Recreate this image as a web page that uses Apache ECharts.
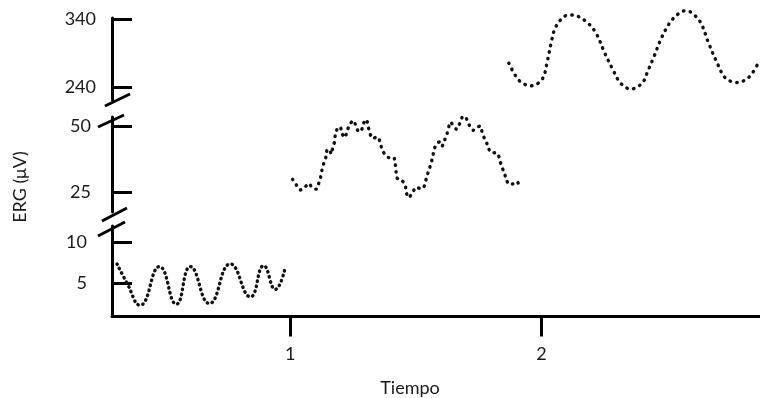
<!DOCTYPE html>
<html>
<head>
<meta charset="utf-8">
<script src="https://cdn.jsdelivr.net/npm/echarts@6/dist/echarts.min.js"></script>
<style>html,body{margin:0;padding:0;background:#fff}#c{width:760px;height:398px}</style>
</head>
<body>
<div id="c"></div>
<script>
// ---- data ----
const xTicks = [1, 2];
const yTicksLow = [5, 10];
const yTicksMid = [25, 50];
const yTicksHigh = [240, 340];

// low band (0.3 - 1.0)
const tiempoA = [0.310, 0.349, 0.402, 0.479, 0.546, 0.602, 0.678, 0.761, 0.841, 0.894, 0.940, 0.980];
const ergA    = [7.37, 5.07, 2.33, 7.04, 2.45, 7.04, 2.54, 7.37, 3.35, 7.16, 4.26, 6.97];

// mid band (1.0 - 1.92)
const tiempoB = [1.009,1.024,1.040,1.057,1.073,1.089,1.104,1.114,1.121,1.126,1.133,1.142,1.146,1.157,1.162,1.170,1.177,1.179,1.189,1.199,1.206,1.217,1.226,1.235,1.250,1.262,1.272,1.284,1.292,1.303,1.309,1.316,1.327,1.348,1.359,1.365,1.379,1.392,1.412,1.418,1.421,1.422,1.432,1.442,1.458,1.460,1.470,1.487,1.498,1.518,1.531,1.538,1.545,1.554,1.562,1.568,1.574,1.584,1.595,1.604,1.614,1.624,1.638,1.651,1.661,1.677,1.687,1.701,1.711,1.728,1.744,1.757,1.764,1.773,1.784,1.794,1.806,1.823,1.834,1.839,1.850,1.859,1.870,1.887,1.903,1.916];
const ergB    = [30.0,27.9,26.0,26.9,28.5,26.6,26.3,28.8,31.0,33.5,36.0,38.5,41.0,41.2,39.5,42.2,44.5,46.9,49.4,49.7,47.2,45.7,48.2,50.4,52.2,50.1,47.9,48.7,51.2,52.6,50.4,47.6,45.4,46.0,43.5,41.2,39.1,38.2,38.2,35.6,33.1,30.8,30.0,29.8,27.9,25.8,23.1,24.8,27.0,26.6,27.0,29.1,31.6,34.1,36.6,39.1,41.6,43.7,44.1,42.5,44.7,47.2,51.6,50.0,48.9,51.6,53.8,52.9,50.7,48.5,49.7,50.1,47.6,45.4,43.2,40.7,40.0,40.0,37.5,35.4,32.9,30.4,28.1,28.3,29.1,26.6];

// high band (1.87 - 2.87)
const tiempoC = [1.870,1.912,1.959,2.003,2.023,2.041,2.056,2.089,2.116,2.142,2.186,2.219,2.251,2.286,2.315,2.355,2.401,2.424,2.448,2.477,2.514,2.551,2.574,2.598,2.634,2.663,2.697,2.733,2.780,2.826,2.859];
const ergC    = [275.3,249.3,241.9,251.8,277.6,309.6,328.2,343.8,346.3,344.9,334.1,318.4,290.9,264.4,245.9,237.1,245.9,264.4,285.0,312.0,336.5,349.7,352.6,349.7,335.0,307.1,277.6,253.2,246.8,254.7,272.8];

const xName = 'Tiempo';
const yName = 'ERG (\u03bcV)';

// ---- chart ----
const zip = (xs, ys) => xs.map((x, i) => [x, ys[i]]);
const FONT = 'Lato';
const ink = '#000';

function yAx(gi, min, max, ticks, margin) {
  return {
    gridIndex: gi, type: 'value', min: min, max: max,
    axisLine: { show: true, lineStyle: { color: ink, width: 3 } },
    axisTick: { show: true, inside: true, length: 20, lineStyle: { color: ink, width: 3 }, customValues: ticks },
    axisLabel: { show: true, customValues: ticks, margin: margin, color: '#1a1a1a', fontFamily: FONT, fontSize: 18 },
    splitLine: { show: false }
  };
}
function xAx(gi, show) {
  return {
    gridIndex: gi, type: 'value', min: 0.29, max: 2.87, show: show,
    axisLine: { show: true, onZero: false, lineStyle: { color: ink, width: 3 } },
    axisTick: { show: true, inside: false, length: 20, lineStyle: { color: ink, width: 3 }, customValues: xTicks },
    axisLabel: { show: true, customValues: xTicks, margin: 29, color: '#1a1a1a', fontFamily: FONT, fontSize: 18 },
    splitLine: { show: false }
  };
}
function ser(i, xs, ys, dash, smooth) {
  return {
    type: 'line', xAxisIndex: i, yAxisIndex: i, data: zip(xs, ys),
    showSymbol: false, clip: false, smooth: smooth,
    lineStyle: { color: '#111', width: 3.4, type: dash, cap: 'round' }
  };
}
const brk = (x1, y1, x2, y2) => ({ type: 'line', shape: { x1, y1, x2, y2 }, style: { stroke: ink, lineWidth: 3 }, z: 10 });

const chart = echarts.init(document.getElementById('c'), null, { renderer: 'canvas' });
chart.setOption({
  animation: false,
  backgroundColor: '#fff',
  grid: [
    { left: 112, right: 0, top: 18, height: 82 },
    { left: 112, right: 0, top: 117, height: 95 },
    { left: 112, right: 0, top: 226, height: 90.5 }
  ],
  xAxis: [xAx(0, false), xAx(1, false), xAx(2, true)],
  yAxis: [
    yAx(0, 221, 341.9, yTicksHigh, 16),
    yAx(1, 17.7, 53.5, yTicksMid, 21),
    yAx(2, 0.95, 12, yTicksLow, 25)
  ],
  series: [
    ser(0, tiempoC, ergC, [0.5, 6.3], 0.35),
    ser(1, tiempoB, ergB, [0.5, 6.2], 0.2),
    ser(2, tiempoA, ergA, [0.5, 4.6], 0.5)
  ],
  graphic: [
    brk(105, 106, 130, 94),
    brk(98, 127, 124, 115),
    brk(102, 221, 127, 208),
    brk(98, 236, 125, 222),
    { type: 'text', x: 410, y: 388, style: { text: xName, fontFamily: FONT, fontSize: 18, fill: '#1a1a1a', align: 'center', verticalAlign: 'middle' } },
    { type: 'text', x: 20, y: 187, rotation: Math.PI / 2, style: { text: yName, fontFamily: FONT, fontSize: 18, fill: '#1a1a1a', align: 'center', verticalAlign: 'middle' } }
  ]
});
</script>
</body>
</html>
